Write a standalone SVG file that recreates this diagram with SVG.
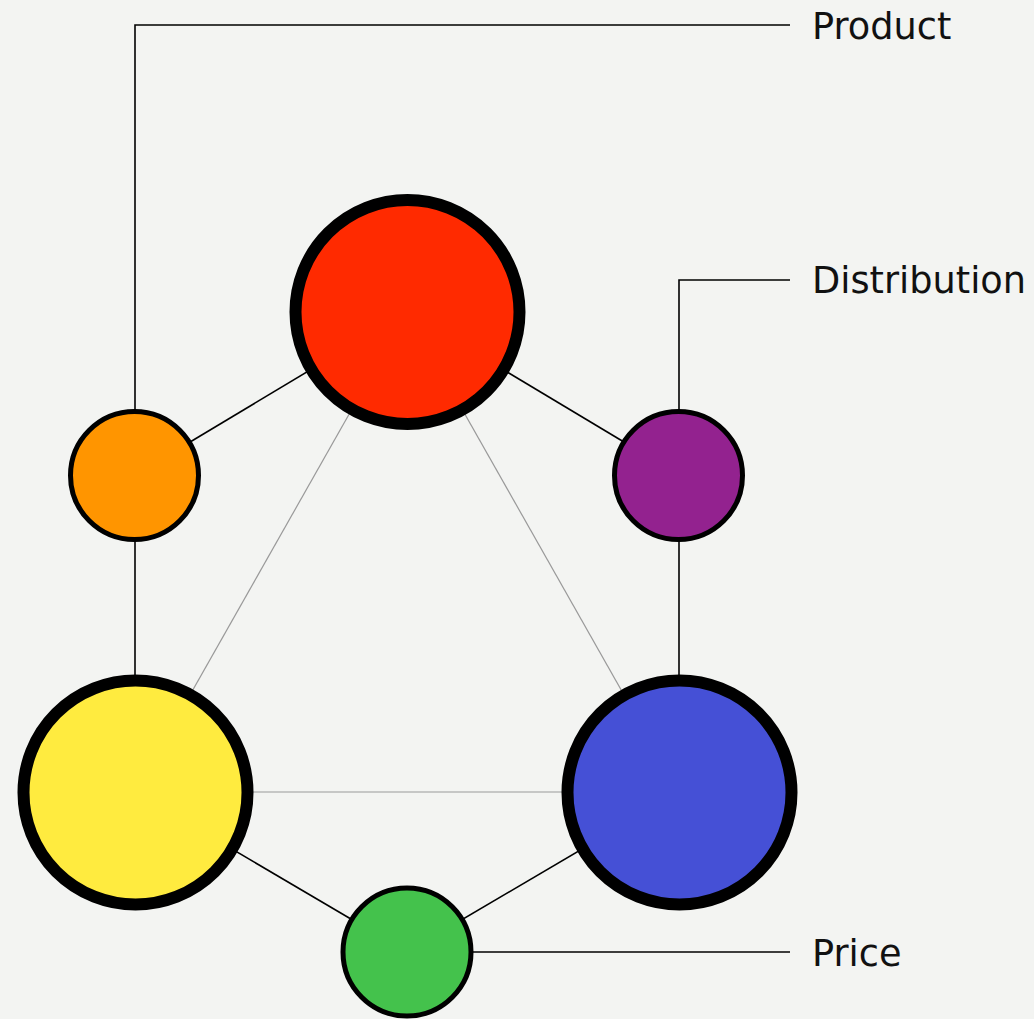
<svg xmlns="http://www.w3.org/2000/svg" width="1034" height="1019" viewBox="0 0 1034 1019">
<style>
.big{stroke:#000;stroke-width:12}
.small{stroke:#000;stroke-width:5}
.edge{stroke:#000;stroke-width:1.6;fill:none}
.inner{stroke:#999;stroke-width:1.2;fill:none}
.lbl{font-family:"DejaVu Sans",Verdana,sans-serif;font-size:36.7px;fill:#111}
</style>
<rect width="1034" height="1019" fill="#f3f4f2"/>
<g id="connectors">
<line class="inner" x1="407" y1="312" x2="135" y2="792"/>
<line class="inner" x1="407" y1="312" x2="679" y2="792"/>
<line class="inner" x1="135" y1="792" x2="679" y2="792"/>
<line class="edge" x1="407" y1="312" x2="135" y2="475"/>
<line class="edge" x1="407" y1="312" x2="679" y2="475"/>
<line class="edge" x1="135" y1="475" x2="135" y2="792"/>
<line class="edge" x1="679" y1="475" x2="679" y2="792"/>
<line class="edge" x1="135" y1="792" x2="407" y2="952"/>
<line class="edge" x1="679" y1="792" x2="407" y2="952"/>
<polyline class="edge" points="135,411 135,25 790,25"/>
<polyline class="edge" points="679,411 679,280 790,280"/>
<line class="edge" x1="407" y1="952" x2="790" y2="952"/>
</g>
<g id="node-red"><circle class="big" cx="407.5" cy="312" r="112" fill="#ff2a00"/></g>
<g id="node-orange"><circle class="small" cx="134.5" cy="475.5" r="64" fill="#ff9500"/></g>
<g id="node-purple"><circle class="small" cx="678.5" cy="475.5" r="64" fill="#93228f"/></g>
<g id="node-yellow"><circle class="big" cx="135.5" cy="792.5" r="112" fill="#ffeb3f"/></g>
<g id="node-blue"><circle class="big" cx="679.5" cy="792.5" r="112" fill="#4550d6"/></g>
<g id="node-green"><circle class="small" cx="407" cy="952" r="64" fill="#44c24c"/></g>
<g id="label-product"><text class="lbl" x="812" y="39">Product</text></g>
<g id="label-distribution"><text class="lbl" x="812" y="293">Distribution</text></g>
<g id="label-price"><text class="lbl" x="812" y="966">Price</text></g>
</svg>
